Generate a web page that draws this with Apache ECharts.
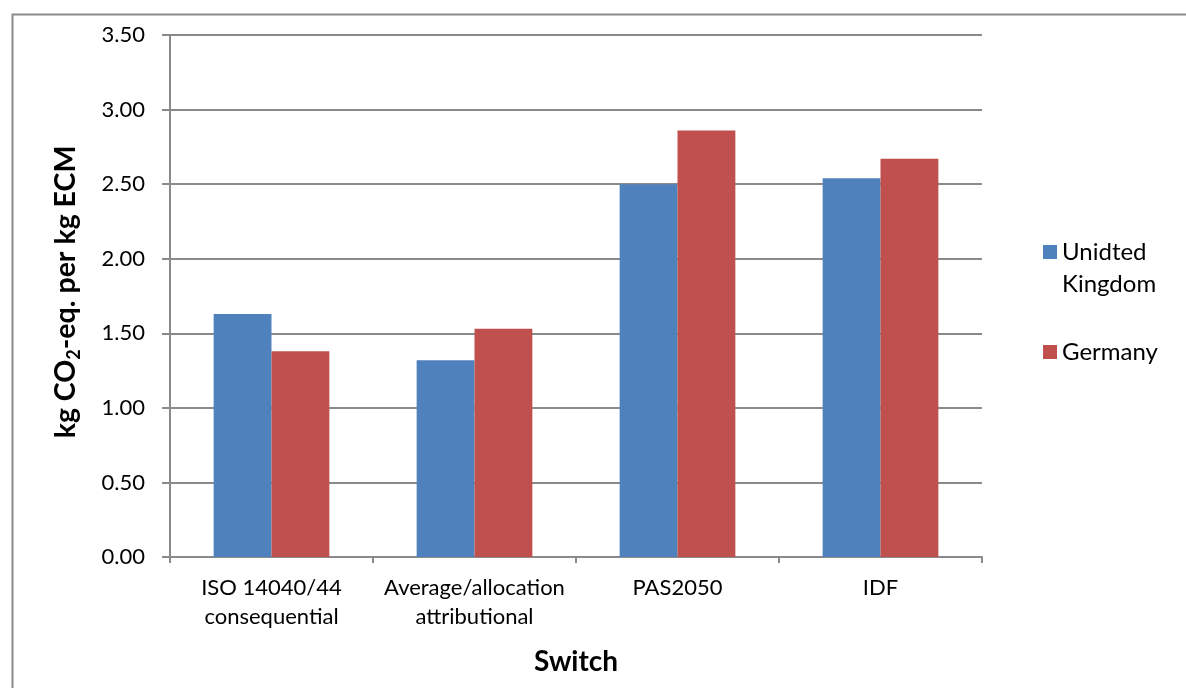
<!DOCTYPE html>
<html>
<head>
<meta charset="utf-8">
<title>kg CO2-eq. per kg ECM by method</title>
<script src="https://cdn.jsdelivr.net/npm/echarts@6/dist/echarts.min.js"></script>
<style>
  html, body { margin: 0; padding: 0; background: #ffffff; }
  #chart { width: 1186px; height: 688px; }
</style>
</head>
<body>
<div id="chart"></div>
<script>
// Accounting methods on the category axis
const categories = [
  'ISO 14040/44\nconsequential',
  'Average/allocation\nattributional',
  'PAS2050',
  'IDF'
];

// Emission factors, kg CO2-eq. per kg ECM
const ukValues = [1.63, 1.32, 2.50, 2.54];
const germanyValues = [1.38, 1.53, 2.86, 2.67];

const seriesNames = ['Unidted Kingdom', 'Germany'];

const yMin = 0;
const yMax = 3.5;
const yStep = 0.5;

const FONT = 'Lato, "Open Sans", sans-serif';
const GRID_COLOR = '#8a8a8a';

const chart = echarts.init(document.getElementById('chart'), null, { renderer: 'canvas' });

chart.setOption({
  backgroundColor: '#ffffff',
  animation: false,
  textStyle: { fontFamily: FONT, color: '#000000' },
  graphic: [{
    type: 'rect',
    left: 10,
    top: 12,
    shape: { width: 1400, height: 900 },
    style: { fill: 'none', stroke: '#8a8a8a', lineWidth: 2 },
    silent: true,
    z: -1
  }],
  grid: { left: 170, right: 204, top: 35, bottom: 131, containLabel: false },
  legend: {
    orient: 'vertical',
    left: 1038,
    top: 199,
    itemWidth: 14,
    itemHeight: 14,
    itemGap: 4,
    icon: 'rect',
    formatter: function (name) {
      // a blank line above keeps the marker level with the first text line
      return name === 'Unidted Kingdom' ? '\nUnidted\nKingdom' : '\n' + name + '\n ';
    },
    textStyle: {
      fontFamily: FONT,
      fontSize: 24,
      color: '#000000',
      lineHeight: 32
    },
    data: seriesNames
  },
  xAxis: {
    type: 'category',
    data: categories,
    name: 'Switch',
    nameLocation: 'middle',
    nameGap: 91,
    nameTextStyle: { fontFamily: FONT, fontSize: 28, fontWeight: 'bold', color: '#000000' },
    axisLine: { lineStyle: { color: GRID_COLOR, width: 2 } },
    axisTick: { show: true, length: 6, alignWithLabel: false, lineStyle: { color: GRID_COLOR, width: 2 } },
    axisLabel: {
      fontFamily: FONT,
      fontSize: 22,
      color: '#000000',
      lineHeight: 29,
      margin: 16,
      interval: 0
    },
    splitLine: { show: false }
  },
  yAxis: {
    type: 'value',
    min: yMin,
    max: yMax,
    interval: yStep,
    name: '{t|kg CO}{s|2}{t|-eq. per kg ECM}',
    nameLocation: 'middle',
    nameGap: 87,
    nameRotate: 90,
    nameTextStyle: {
      padding: [0, 0, 0, 8],
      rich: {
        t: { fontFamily: FONT, fontSize: 28.5, fontWeight: 'bold', color: '#000000' },
        s: { fontFamily: FONT, fontSize: 18, fontWeight: 'bold', color: '#000000', padding: [17, 0, 0, 0] }
      }
    },
    axisLine: { show: true, lineStyle: { color: GRID_COLOR, width: 2 } },
    axisTick: { show: true, length: 8, lineStyle: { color: GRID_COLOR, width: 2 } },
    axisLabel: {
      fontFamily: FONT,
      fontSize: 22,
      color: '#000000',
      margin: 25,
      formatter: function (v) { return v.toFixed(2); }
    },
    splitLine: { show: true, lineStyle: { color: GRID_COLOR, width: 2 } }
  },
  series: [
    {
      name: seriesNames[0],
      type: 'bar',
      data: ukValues,
      barGap: '0%',
      barCategoryGap: '43%',
      itemStyle: { color: '#4f81bd' }
    },
    {
      name: seriesNames[1],
      type: 'bar',
      data: germanyValues,
      barGap: '0%',
      barCategoryGap: '43%',
      itemStyle: { color: '#c0504d' }
    }
  ]
});
</script>
</body>
</html>
